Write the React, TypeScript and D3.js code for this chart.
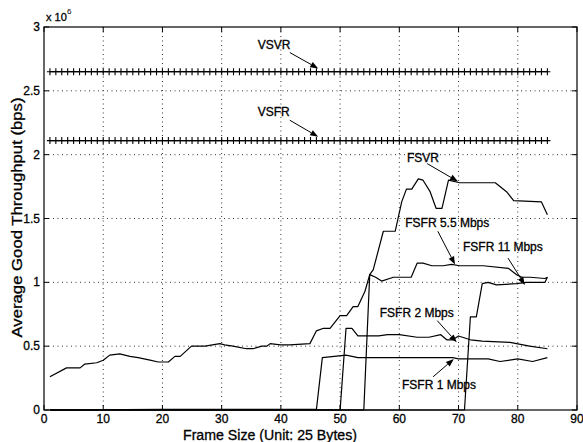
import React from "react";
import * as d3 from "d3";

const W = 583;
const H = 442;
const M = { left: 44, right: 577, top: 27, bottom: 410 };

const xTicks = [0, 10, 20, 30, 40, 50, 60, 70, 80, 90];
const yTicks = [0, 0.5, 1, 1.5, 2, 2.5, 3];
const yTickLabels = ["0", "0.5", "1", "1.5", "2", "2.5", "3"];

// frame sizes where the VS curves carry a '+' marker
const frameSizes = d3.range(1, 86);
const vsvrLevel = 2.65;
const vsfrLevel = 2.11;

// FSVR (x, throughput in 1e6 bps)
const fsvrX = [1, 3.8, 6.1, 6.9, 8.9, 10, 11.1, 12.8, 14.5, 15.9, 17.9, 19.3, 21, 22.1, 23, 24.9, 27.2, 29.7, 30.5, 31.9, 34.2, 35.3, 36.8, 37.6, 38.2, 39.9, 41.5, 44.9, 46, 47.2, 48.3, 50, 51.1, 52.2, 53, 54.2, 55, 55.6, 57.3, 59.3, 60.4, 61.2, 62.1, 63.2, 64, 65.2, 66.2, 67.2, 68.3, 70.2, 76.2, 78.1, 79.3, 84, 85];
const fsvrY = [0.26, 0.33, 0.33, 0.36, 0.37, 0.39, 0.43, 0.44, 0.42, 0.41, 0.39, 0.376, 0.376, 0.42, 0.42, 0.5, 0.5, 0.52, 0.51, 0.5, 0.48, 0.48, 0.5, 0.5, 0.52, 0.51, 0.51, 0.52, 0.62, 0.64, 0.64, 0.74, 0.74, 0.81, 0.81, 0.93, 1.06, 1.1, 1.4, 1.4, 1.63, 1.73, 1.73, 1.81, 1.8, 1.71, 1.58, 1.58, 1.8, 1.78, 1.78, 1.71, 1.64, 1.63, 1.53];

// FSFR 1 Mbps
const fsfr1X = [1, 20, 30, 40, 46, 47, 51, 53, 54.5, 69, 70, 75, 77, 80, 82.5, 85];
const fsfr1Y = [0, 0.005, 0.005, 0.005, 0.005, 0.41, 0.43, 0.41, 0.41, 0.41, 0.4, 0.4, 0.38, 0.4, 0.38, 0.41];

// FSFR 2 Mbps
const fsfr2X = [1, 50, 51, 52, 53, 56.5, 58, 60, 63, 65, 67, 68, 69, 70, 72, 74, 78.7, 82, 85];
const fsfr2Y = [0, 0, 0.64, 0.64, 0.58, 0.58, 0.59, 0.59, 0.57, 0.57, 0.59, 0.55, 0.55, 0.58, 0.55, 0.54, 0.53, 0.5, 0.48];

// FSFR 5.5 Mbps
const fsfr55X = [1, 54, 55, 56, 57, 59, 62, 63, 64, 65.5, 67.4, 68.8, 70.2, 74.2, 78.4, 79.8, 80.7, 82.1, 84.6, 85];
const fsfr55Y = [0, 0, 1.06, 1.04, 1.01, 1.04, 1.04, 1.15, 1.15, 1.13, 1.13, 1.14, 1.13, 1.13, 1.11, 1.06, 1.04, 1.04, 1.03, 1.04];

// FSFR 11 Mbps
const fsfr11X = [1, 71, 72, 73, 74, 75, 76.4, 79.8, 81.5, 84.6, 85];
const fsfr11Y = [0, 0, 0.73, 0.73, 0.99, 1.0, 0.98, 0.99, 1.0, 1.0, 1.04];

// annotations: label, text anchor (x,y), arrow tail, arrow tip (data units)
const annLabels = ["VSVR", "VSFR", "FSVR", "FSFR 5.5 Mbps", "FSFR 11 Mbps", "FSFR 2 Mbps", "FSFR 1 Mbps"];
const annText = [[36.1, 2.83], [36.1, 2.3], [61.3, 1.94], [61.0, 1.43], [70.75, 1.245], [56.7, 0.73], [60.45, 0.165]];
const annTail = [[41.5, 2.8], [41.5, 2.27], [64.7, 1.93], [66.5, 1.4], [78.35, 1.19], [66.4, 0.7], [65.7, 0.26]];
const annTip = [[46.3, 2.675], [46.3, 2.14], [69.9, 1.79], [69.4, 1.14], [81.2, 0.98], [69.7, 0.53], [69.2, 0.4]];

const FONT = "'Liberation Sans', Arial, Helvetica, sans-serif";

export default function App() {
  const x = d3.scaleLinear().domain([0, 90]).range([M.left, M.right]);
  const y = d3.scaleLinear().domain([0, 3]).range([M.bottom, M.top]);

  const line = d3
    .line<[number, number]>()
    .x((d) => x(d[0]))
    .y((d) => y(d[1]));

  const zip = (xs: number[], ys: number[]) => xs.map((v, i) => [v, ys[i]] as [number, number]);
  const series = [
    zip(fsfr1X, fsfr1Y),
    zip(fsfr2X, fsfr2Y),
    zip(fsfr55X, fsfr55Y),
    zip(fsfr11X, fsfr11Y),
    zip(fsvrX, fsvrY),
  ];
  const vsLevels = [vsvrLevel, vsfrLevel];

  const tick = 5;
  const heavy = { stroke: "#000", strokeWidth: 0.3 };

  return (
    <svg
      width={W}
      height={H}
      viewBox={`0 0 ${W} ${H}`}
      style={{ position: "absolute", left: 0, top: 0, background: "#fff" }}
      fontFamily={FONT}
    >
      <rect x={0} y={0} width={W} height={H} fill="#fff" />
      {/* grid */}
      <g stroke="#000" strokeWidth={1} strokeDasharray="1,3.5" opacity={0.8}>
        {xTicks.slice(1, -1).map((t) => (
          <line key={"gx" + t} x1={x(t)} x2={x(t)} y1={M.top} y2={M.bottom} />
        ))}
        {yTicks.slice(1, -1).map((t) => (
          <line key={"gy" + t} x1={M.left} x2={M.right} y1={y(t)} y2={y(t)} />
        ))}
      </g>
      {/* ticks */}
      <g stroke="#000" strokeWidth={1}>
        {xTicks.map((t) => (
          <g key={"tx" + t}>
            <line x1={x(t)} x2={x(t)} y1={M.bottom} y2={M.bottom - tick} />
            <line x1={x(t)} x2={x(t)} y1={M.top} y2={M.top + tick} />
          </g>
        ))}
        {yTicks.map((t) => (
          <g key={"ty" + t}>
            <line x1={M.left} x2={M.left + tick} y1={y(t)} y2={y(t)} />
            <line x1={M.right} x2={M.right - tick} y1={y(t)} y2={y(t)} />
          </g>
        ))}
      </g>
      {/* series */}
      <g fill="none" stroke="#000" strokeWidth={1.2} strokeLinejoin="round">
        {series.map((s, i) => (
          <path key={"s" + i} d={line(s) || ""} />
        ))}
        {vsLevels.map((lv, i) => (
          <g key={"vs" + i}>
            <path d={line(frameSizes.map((f) => [f, lv] as [number, number])) || ""} />
            {frameSizes.map((f) => (
              <path
                key={f}
                d={`M${x(f) - 3},${y(lv)}h6M${x(f)},${y(lv) - 3.5}v7`}
                strokeWidth={1.1}
              />
            ))}
          </g>
        ))}
      </g>
      {/* box */}
      <rect
        x={M.left}
        y={M.top}
        width={M.right - M.left}
        height={M.bottom - M.top}
        fill="none"
        stroke="#000"
        strokeWidth={1.2}
      />
      {/* tick labels */}
      <g fontSize={12} fill="#000" {...heavy}>
        {xTicks.map((t) => (
          <text key={"lx" + t} x={x(t)} y={423} textAnchor="middle">
            {t}
          </text>
        ))}
        {yTicks.map((t, i) => (
          <text key={"ly" + t} x={M.left - 4} y={y(t) + 4} textAnchor="end">
            {yTickLabels[i]}
          </text>
        ))}
      </g>
      <text x={46} y={21} fontSize={11} fill="#000" {...heavy}>
        x 10
      </text>
      <text x={67} y={14} fontSize={8} fill="#000">
        6
      </text>
      {/* axis labels */}
      <text
        x={(183 + 357) / 2}
        y={440}
        fontSize={14}
        textAnchor="middle"
        fill="#000"
        textLength={174}
        lengthAdjust="spacingAndGlyphs"
        {...heavy}
      >
        Frame Size (Unit: 25 Bytes)
      </text>
      <text
        transform={`translate(22,${(97 + 338) / 2}) rotate(-90)`}
        fontSize={14}
        textAnchor="middle"
        fill="#000"
        textLength={240}
        lengthAdjust="spacingAndGlyphs"
        {...heavy}
      >
        Average Good Throughput (bps)
      </text>
      {/* annotations */}
      <g fontSize={12} fill="#000">
        {annLabels.map((lab, i) => {
          const tx = x(annTail[i][0]);
          const ty = y(annTail[i][1]);
          const hx = x(annTip[i][0]);
          const hy = y(annTip[i][1]);
          const ang = Math.atan2(hy - ty, hx - tx);
          const L = 8;
          const Wd = 3;
          const bx = hx - L * Math.cos(ang);
          const by = hy - L * Math.sin(ang);
          const px = -Math.sin(ang) * Wd;
          const py = Math.cos(ang) * Wd;
          return (
            <g key={lab}>
              <text x={x(annText[i][0])} y={y(annText[i][1])} {...heavy}>
                {lab}
              </text>
              <line x1={tx} y1={ty} x2={bx} y2={by} stroke="#000" strokeWidth={1} />
              <polygon points={`${hx},${hy} ${bx + px},${by + py} ${bx - px},${by - py}`} fill="#000" />
            </g>
          );
        })}
      </g>
    </svg>
  );
}
